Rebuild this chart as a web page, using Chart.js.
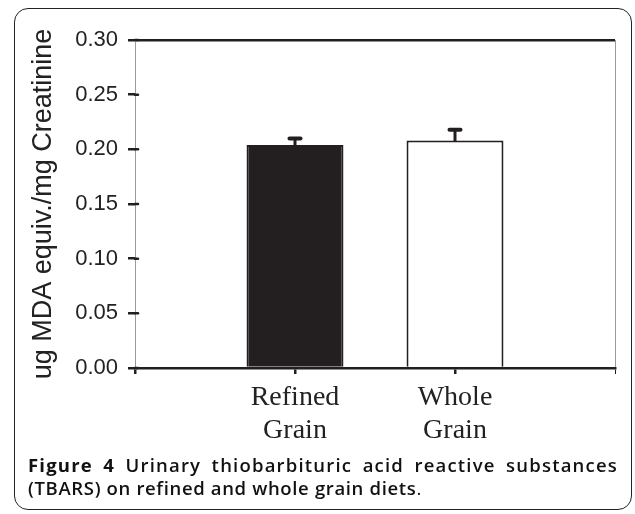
<!DOCTYPE html>
<html>
<head>
<meta charset="utf-8">
<script src="https://cdn.jsdelivr.net/npm/chart.js@4"></script>
<style>
html,body{margin:0;padding:0;background:#fff;}
#wrap{position:relative;width:635px;height:514px;overflow:hidden;}
#frame{position:absolute;left:14px;top:8px;width:618px;height:502px;border:1.5px solid #222;border-radius:14px;box-sizing:border-box;}
#c{position:absolute;left:0;top:0;}
#cap{position:absolute;left:28px;top:453px;width:590px;font-family:"Open Sans",sans-serif;font-size:18.5px;line-height:23px;color:#111;font-weight:600;}
#cap .l1{text-align:justify;text-align-last:justify;white-space:nowrap;letter-spacing:1.2px;}
#cap .l2{text-align:left;white-space:nowrap;letter-spacing:0.65px;}
#cap b{font-weight:700;}
</style>
</head>
<body>
<div id="wrap">
<div id="frame"></div>
<canvas id="c" width="635" height="514"></canvas>
<div id="cap"><div class="l1"><b>Figure 4</b> Urinary thiobarbituric acid reactive substances</div><div class="l2">(TBARS) on refined and whole grain diets<span style="font-weight:400">.</span></div></div>
</div>
<script>
const categories = ['', ['Refined', 'Grain'], ['Whole', 'Grain'], ''];
const means = [null, 0.204, 0.208, null];
const errors = [null, 0.006, 0.010, null];
const yTicks = [0, 0.05, 0.10, 0.15, 0.20, 0.25, 0.30];
const yTitle = 'ug MDA equiv./mg Creatinine';

const errorBars = {
  id: 'errorBars',
  afterDatasetsDraw(chart) {
    const ctx = chart.ctx;
    const meta = chart.getDatasetMeta(0);
    const y = chart.scales.y;
    ctx.save();
    ctx.strokeStyle = '#231f20';
    ctx.lineCap = 'round';
    meta.data.forEach((bar, i) => {
      if (means[i] == null) return;
      const x = bar.x;
      const y0 = y.getPixelForValue(means[i]);
      const y1 = y.getPixelForValue(means[i] + errors[i]);
      ctx.lineWidth = 3;
      ctx.beginPath(); ctx.moveTo(x, y0); ctx.lineTo(x, y1 + 1); ctx.stroke();
      ctx.lineWidth = 4;
      ctx.beginPath(); ctx.moveTo(x - 5.5, y1); ctx.lineTo(x + 5.5, y1); ctx.stroke();
    });
    // inward part of the y tick marks (ticks cross the axis line)
    ctx.lineWidth = 2.5;
    const left = chart.chartArea.left;
    yTicks.forEach(v => {
      const py = y.getPixelForValue(v);
      ctx.beginPath(); ctx.moveTo(left, py); ctx.lineTo(left + 3, py); ctx.stroke();
    });
    ctx.restore();
  }
};

new Chart(document.getElementById('c'), {
  type: 'bar',
  data: {
    labels: categories,
    datasets: [{
      data: means,
      backgroundColor: ['#231f20', '#231f20', '#ffffff', '#ffffff'],
      borderColor: '#231f20',
      borderWidth: 2,
      categoryPercentage: 1,
      barPercentage: 0.606
    }]
  },
  options: {
    responsive: false,
    animation: false,
    events: [],
    layout: { padding: { left: 0, right: 20, top: 40, bottom: 0 } },
    plugins: { legend: { display: false }, tooltip: { enabled: false } },
    scales: {
      x: {
        type: 'category',
        offset: false,
        grid: {
          offset: false,
          drawOnChartArea: true,
          color: (c) => c.index === 3 ? '#999' : 'rgba(0,0,0,0)',
          tickColor: '#231f20',
          lineWidth: (c) => c.index === 3 ? 1 : 2.5,
          tickLength: 6
        },
        border: { color: '#231f20', width: 2.5 },
        ticks: {
          autoSkip: false,
          maxRotation: 0,
          padding: 8,
          color: '#222',
          font: { family: '"Liberation Serif", "Times New Roman", serif', size: 28, lineHeight: 1.15 }
        },
        afterFit(s) { s.height = 146; }
      },
      y: {
        min: 0,
        max: 0.30,
        afterBuildTicks(s) { s.ticks = yTicks.map(v => ({ value: v })); },
        grid: {
          color: (c) => (c.tick && Math.abs(c.tick.value - 0.30) < 1e-9) ? '#231f20' : 'rgba(0,0,0,0)',
          tickColor: '#231f20',
          lineWidth: 2.5,
          tickLength: 7
        },
        border: { color: '#999', width: 1 },
        ticks: {
          padding: 10,
          color: '#222',
          font: { family: '"Liberation Sans", Arial, sans-serif', size: 22 },
          callback: (v) => Number(v).toFixed(2)
        },
        title: {
          display: true,
          text: yTitle,
          color: '#222',
          padding: { top: 27, bottom: 0 },
          font: { family: '"Liberation Sans", Arial, sans-serif', size: 27 }
        },
        afterFit(s) { s.width = 135; }
      }
    }
  },
  plugins: [errorBars]
});
</script>
</body>
</html>
